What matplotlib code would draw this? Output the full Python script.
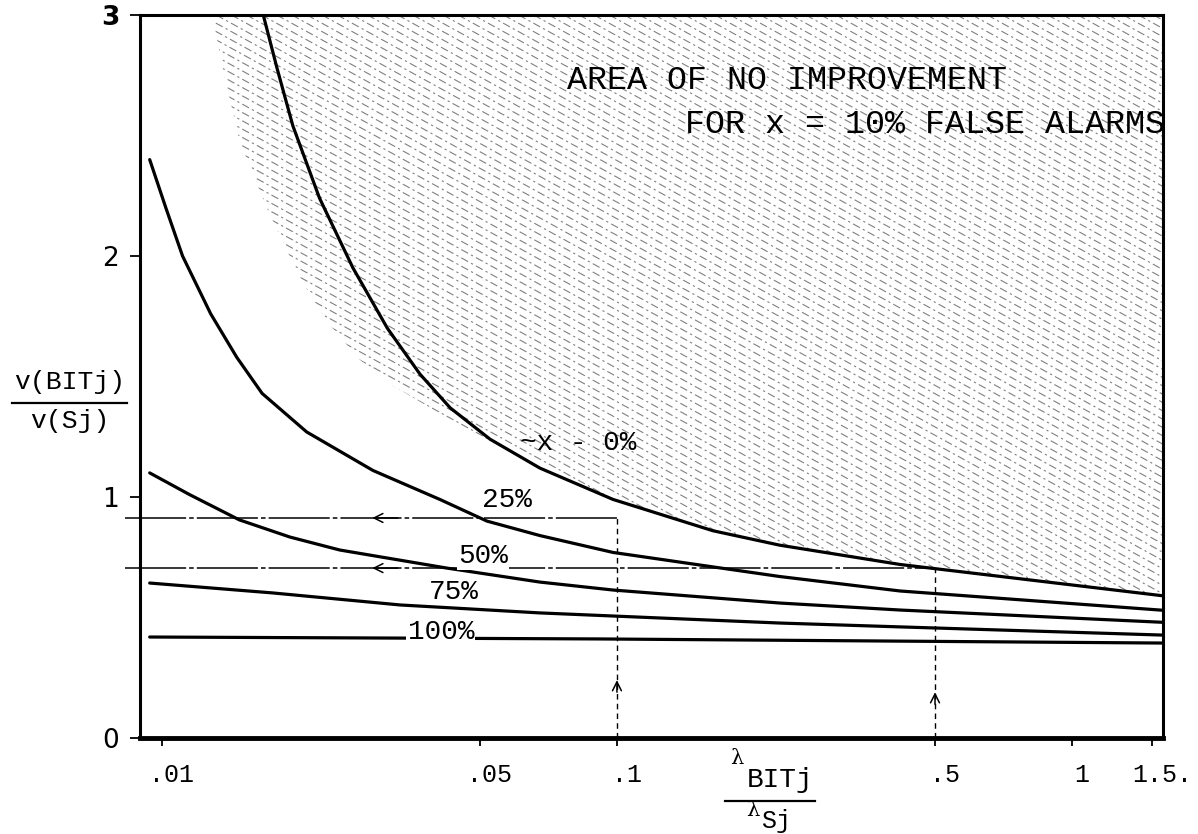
import numpy as np
import matplotlib.pyplot as plt
import matplotlib.transforms as mtransforms
from matplotlib.patches import Polygon
from matplotlib.collections import LineCollection
from matplotlib.lines import Line2D
from matplotlib.ticker import NullLocator

# curves (x = lambda_BITj / lambda_Sj, y = v(BITj)/v(Sj))
x0_pct = [0.0167, 0.0179, 0.0194, 0.0222, 0.0263, 0.0313, 0.0369, 0.0430,
          0.0526, 0.0677, 0.098, 0.1625, 0.228, 0.419, 1.585]
y0_pct = [3.0, 2.78, 2.54, 2.24, 1.95, 1.70, 1.51, 1.37,
          1.24, 1.12, 0.99, 0.86, 0.80, 0.72, 0.59]
x25_pct = [0.0094, 0.0102, 0.0111, 0.0128, 0.0146, 0.0166, 0.0208, 0.0291, 0.0408,
           0.0518, 0.0677, 0.098, 0.1625, 0.228, 0.419, 1.585]
y25_pct = [2.40, 2.20, 2.00, 1.76, 1.58, 1.43, 1.27, 1.11, 0.99,
           0.90, 0.84, 0.77, 0.71, 0.67, 0.61, 0.53]
x50_pct = [0.0094, 0.0115, 0.0148, 0.0191, 0.0246, 0.0423, 0.0677, 0.098, 0.228, 0.419, 1.585]
y50_pct = [1.10, 1.01, 0.905, 0.834, 0.78, 0.705, 0.647, 0.614, 0.56, 0.531, 0.48]
x75_pct = [0.0094, 0.0175, 0.0334, 0.0677, 0.228, 0.419, 1.585]
y75_pct = [0.643, 0.602, 0.552, 0.519, 0.477, 0.461, 0.427]
x100_pct = [0.0094, 0.0917, 1.585]
y100_pct = [0.419, 0.411, 0.394]

# left edge of the shaded "no improvement" area
hatch_x = [0.0129, 0.0136, 0.0148, 0.0170, 0.0201, 0.0230, 0.0272, 0.0317,
           0.0430, 0.0677, 0.098, 0.1625, 0.228, 0.419, 1.585]
hatch_y = [3.0, 2.78, 2.48, 2.20, 1.91, 1.73, 1.57, 1.47,
           1.32, 1.12, 0.99, 0.86, 0.80, 0.72, 0.59]

# read-off lines with arrows
read_x = [0.1, 0.5]
read_y = [0.913, 0.705]
read_head_y = [0.24, 0.19]

curve_labels = ['~x - 0%', '25%', '50%', '75%', '100%']
label_x = [0.0821, 0.0573, 0.0508, 0.0438, 0.0410]
label_y = [1.224, 0.988, 0.755, 0.606, 0.44]

x_ticks = [0.01, 0.05, 0.1, 0.5, 1, 1.5]
x_ticklabels = ['.01', '.05', '.1', '.5', '1', '1.5.']
y_ticks = [0, 1, 2, 3]

W, H = 1198, 834
MONO = 'Liberation Mono'

fig = plt.figure(figsize=(W / 100, H / 100), dpi=100)
ax = fig.add_axes([140 / W, 96 / H, 1023 / W, 723 / H])
ax.set_xscale('log')
ax.set_xlim(0.00895, 1.585)
ax.set_ylim(0, 3)

# shaded area (diagonal scan-like hatching clipped to region)
verts = list(zip(hatch_x, hatch_y)) + [(1.585, 3.0), (hatch_x[0], 3.0)]
region = Polygon(verts, closed=True, transform=ax.transData,
                 facecolor='none', edgecolor='none')
ax.add_patch(region)
slope = -0.55 * 1023 / 723
cs = np.arange(0, 1 - slope + 0.02, 0.0115)
segs = [[(0, c), (1, c + slope)] for c in cs]
lc = LineCollection(segs, colors='0.5', linewidths=0.8,
                    linestyles=[(0, (7, 3, 2, 3))], transform=ax.transAxes, zorder=1)
lc.set_clip_path(region)
ax.add_collection(lc, autolim=False)

for xs, ys in [(x0_pct, y0_pct), (x25_pct, y25_pct), (x50_pct, y50_pct),
               (x75_pct, y75_pct), (x100_pct, y100_pct)]:
    ax.plot(xs, ys, color='black', lw=2.3, solid_capstyle='round',
            solid_joinstyle='round', zorder=3)

# read-off lines
for xr, yr, yh in zip(read_x, read_y, read_head_y):
    ax.plot([0.0083, xr], [yr, yr], color='black', lw=1.1,
            ls=(0, (40, 2, 3, 2)), clip_on=False, zorder=2)
    ax.plot([xr, xr], [0, yr], color='black', lw=1.0, ls=(0, (4, 3)), zorder=2)
    ax.annotate('', xy=(0.029, yr), xytext=(0.033, yr),
                arrowprops=dict(arrowstyle='->', lw=1.1, color='black',
                                mutation_scale=16, shrinkA=0, shrinkB=0))
    ax.annotate('', xy=(xr, yh), xytext=(xr, yh - 0.05),
                arrowprops=dict(arrowstyle='->', lw=1.1, color='black',
                                mutation_scale=16, shrinkA=0, shrinkB=0))

for txt, lx, ly in zip(curve_labels, label_x, label_y):
    bbox = None
    if txt in ('50%', '100%'):
        bbox = dict(facecolor='white', edgecolor='none', pad=1)
    ax.text(lx, ly, txt, fontsize=20, family=MONO, ha='center', va='center',
            bbox=bbox, zorder=4)

ax.text(0.4174, 0.910, 'AREA OF NO IMPROVEMENT', transform=ax.transAxes,
        fontsize=24, family=MONO, ha='left', va='center', zorder=4)
ax.text(0.5327, 0.849, 'FOR x = 10% FALSE ALARMS', transform=ax.transAxes,
        fontsize=24, family=MONO, ha='left', va='center', zorder=4)

# axes styling
for s in ax.spines.values():
    s.set_linewidth(2.2)
ax.spines['bottom'].set_linewidth(3.5)
ax.set_xticks(x_ticks, x_ticklabels, fontsize=18, family=MONO)
ax.xaxis.set_minor_locator(NullLocator())
ax.set_yticks(y_ticks, [str(v) for v in y_ticks], fontsize=19, family='DejaVu Sans')
ax.get_yticklabels()[-1].set_fontweight('bold')
ax.tick_params(axis='x', direction='out', length=6, width=1.3, pad=12)
ax.tick_params(axis='y', direction='out', length=7, width=1.3, pad=8)
shift = mtransforms.ScaledTranslation(0.1, 0, fig.dpi_scale_trans)
for lbl in ax.get_xticklabels():
    lbl.set_transform(lbl.get_transform() + shift)


def f(px, py):
    return px / W, 1 - py / H


# y-axis label as a fraction
fig.text(*f(70, 382), 'v(BITj)', fontsize=19, family=MONO, ha='center', va='center')
fig.add_artist(Line2D([12 / W, 127 / W], [1 - 403 / H] * 2, color='black', lw=1.6))
fig.text(*f(70, 421), 'v(Sj)', fontsize=19, family=MONO, ha='center', va='center')

# x-axis label as a fraction
fig.text(*f(737, 758), 'λ', fontsize=15, family='DejaVu Serif', ha='center', va='center')
fig.text(*f(747, 780), 'BITj', fontsize=20, family=MONO, ha='left', va='center')
fig.add_artist(Line2D([725 / W, 815 / W], [1 - 801 / H] * 2, color='black', lw=1.6))
fig.text(*f(753, 811), 'λ', fontsize=15, family='DejaVu Serif', ha='center', va='center')
fig.text(*f(761, 821), 'Sj', fontsize=18, family=MONO, ha='left', va='center')

fig.savefig('out.png', dpi=100)
